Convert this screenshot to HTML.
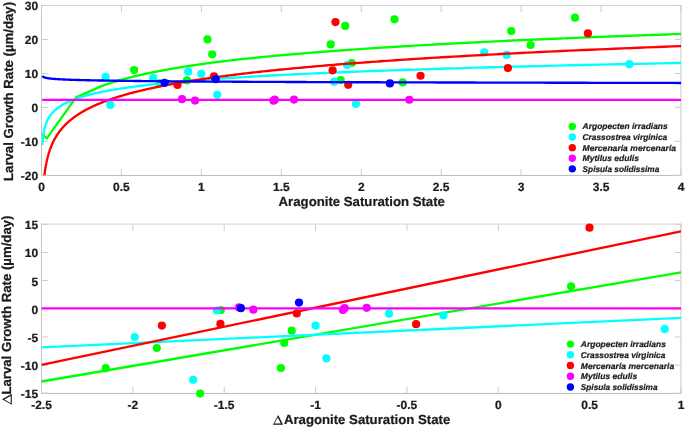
<!DOCTYPE html>
<html><head><meta charset="utf-8"><style>html,body{margin:0;padding:0;background:#fff;width:685px;height:428px;overflow:hidden}svg{display:block}</style></head>
<body><svg width="685" height="428" viewBox="0 0 685 428" style="will-change:transform;text-rendering:geometricPrecision">
<defs>
<filter id="soft" x="0" y="0" width="100%" height="100%"><feGaussianBlur stdDeviation="0.3"/></filter>
<clipPath id="ct"><rect x="41.5" y="5.5" width="639.5" height="169.8"/></clipPath>
<clipPath id="cb"><rect x="41.5" y="224.3" width="639.5" height="168.89999999999998"/></clipPath>
</defs>
<rect width="685" height="428" fill="#fff"/>
<g filter="url(#soft)">
<g font-family="Liberation Sans, sans-serif" font-weight="bold" fill="#1a1a1a">
<style>text{stroke:#1a1a1a;stroke-width:0.22px;paint-order:stroke}</style>
<line x1="41.00" y1="5.45" x2="681.40" y2="5.45" stroke="#d0d0d0" stroke-width="1"/>
<line x1="41.00" y1="175.45" x2="681.40" y2="175.45" stroke="#bcbcbc" stroke-width="1"/>
<line x1="41.50" y1="5.00" x2="41.50" y2="175.90" stroke="#c4c4c4" stroke-width="1"/>
<line x1="680.95" y1="5.00" x2="680.95" y2="175.90" stroke="#c8c8c8" stroke-width="1"/>
<line x1="41.50" y1="175.30" x2="41.50" y2="168.90" stroke="#cccccc" stroke-width="1"/>
<line x1="41.50" y1="5.50" x2="41.50" y2="11.90" stroke="#cccccc" stroke-width="1"/>
<text x="41.50" y="190.50" font-size="12" text-anchor="middle" >0</text>
<line x1="121.44" y1="175.30" x2="121.44" y2="168.90" stroke="#cccccc" stroke-width="1"/>
<line x1="121.44" y1="5.50" x2="121.44" y2="11.90" stroke="#cccccc" stroke-width="1"/>
<text x="121.44" y="190.50" font-size="12" text-anchor="middle" >0.5</text>
<line x1="201.38" y1="175.30" x2="201.38" y2="168.90" stroke="#cccccc" stroke-width="1"/>
<line x1="201.38" y1="5.50" x2="201.38" y2="11.90" stroke="#cccccc" stroke-width="1"/>
<text x="201.38" y="190.50" font-size="12" text-anchor="middle" >1</text>
<line x1="281.31" y1="175.30" x2="281.31" y2="168.90" stroke="#cccccc" stroke-width="1"/>
<line x1="281.31" y1="5.50" x2="281.31" y2="11.90" stroke="#cccccc" stroke-width="1"/>
<text x="281.31" y="190.50" font-size="12" text-anchor="middle" >1.5</text>
<line x1="361.25" y1="175.30" x2="361.25" y2="168.90" stroke="#cccccc" stroke-width="1"/>
<line x1="361.25" y1="5.50" x2="361.25" y2="11.90" stroke="#cccccc" stroke-width="1"/>
<text x="361.25" y="190.50" font-size="12" text-anchor="middle" >2</text>
<line x1="441.19" y1="175.30" x2="441.19" y2="168.90" stroke="#cccccc" stroke-width="1"/>
<line x1="441.19" y1="5.50" x2="441.19" y2="11.90" stroke="#cccccc" stroke-width="1"/>
<text x="441.19" y="190.50" font-size="12" text-anchor="middle" >2.5</text>
<line x1="521.12" y1="175.30" x2="521.12" y2="168.90" stroke="#cccccc" stroke-width="1"/>
<line x1="521.12" y1="5.50" x2="521.12" y2="11.90" stroke="#cccccc" stroke-width="1"/>
<text x="521.12" y="190.50" font-size="12" text-anchor="middle" >3</text>
<line x1="601.06" y1="175.30" x2="601.06" y2="168.90" stroke="#cccccc" stroke-width="1"/>
<line x1="601.06" y1="5.50" x2="601.06" y2="11.90" stroke="#cccccc" stroke-width="1"/>
<text x="601.06" y="190.50" font-size="12" text-anchor="middle" >3.5</text>
<line x1="681.00" y1="175.30" x2="681.00" y2="168.90" stroke="#cccccc" stroke-width="1"/>
<line x1="681.00" y1="5.50" x2="681.00" y2="11.90" stroke="#cccccc" stroke-width="1"/>
<text x="681.00" y="190.50" font-size="12" text-anchor="middle" >4</text>
<line x1="41.50" y1="175.30" x2="47.90" y2="175.30" stroke="#cccccc" stroke-width="1"/>
<line x1="681.00" y1="175.30" x2="674.60" y2="175.30" stroke="#cccccc" stroke-width="1"/>
<text x="38.10" y="180.20" font-size="12" text-anchor="end" >-20</text>
<line x1="41.50" y1="141.34" x2="47.90" y2="141.34" stroke="#cccccc" stroke-width="1"/>
<line x1="681.00" y1="141.34" x2="674.60" y2="141.34" stroke="#cccccc" stroke-width="1"/>
<text x="38.10" y="146.24" font-size="12" text-anchor="end" >-10</text>
<line x1="41.50" y1="107.38" x2="47.90" y2="107.38" stroke="#cccccc" stroke-width="1"/>
<line x1="681.00" y1="107.38" x2="674.60" y2="107.38" stroke="#cccccc" stroke-width="1"/>
<text x="38.10" y="112.28" font-size="12" text-anchor="end" >0</text>
<line x1="41.50" y1="73.42" x2="47.90" y2="73.42" stroke="#cccccc" stroke-width="1"/>
<line x1="681.00" y1="73.42" x2="674.60" y2="73.42" stroke="#cccccc" stroke-width="1"/>
<text x="38.10" y="78.32" font-size="12" text-anchor="end" >10</text>
<line x1="41.50" y1="39.46" x2="47.90" y2="39.46" stroke="#cccccc" stroke-width="1"/>
<line x1="681.00" y1="39.46" x2="674.60" y2="39.46" stroke="#cccccc" stroke-width="1"/>
<text x="38.10" y="44.36" font-size="12" text-anchor="end" >20</text>
<line x1="41.50" y1="5.50" x2="47.90" y2="5.50" stroke="#cccccc" stroke-width="1"/>
<line x1="681.00" y1="5.50" x2="674.60" y2="5.50" stroke="#cccccc" stroke-width="1"/>
<text x="38.10" y="10.40" font-size="12" text-anchor="end" >30</text>
<text x="278.60" y="206.20" font-size="13.2" text-anchor="start" >Aragonite Saturation State</text>
<text transform="translate(13.2,181.0) rotate(-90)" font-size="13.2" text-anchor="start">Larval Growth Rate (µm/day)</text>
<line x1="41.00" y1="224.10" x2="681.40" y2="224.10" stroke="#d0d0d0" stroke-width="1"/>
<line x1="41.00" y1="393.45" x2="681.40" y2="393.45" stroke="#bcbcbc" stroke-width="1"/>
<line x1="41.50" y1="223.60" x2="41.50" y2="393.90" stroke="#c4c4c4" stroke-width="1"/>
<line x1="680.95" y1="223.60" x2="680.95" y2="393.90" stroke="#c8c8c8" stroke-width="1"/>
<line x1="41.50" y1="393.20" x2="41.50" y2="386.80" stroke="#cccccc" stroke-width="1"/>
<line x1="41.50" y1="224.30" x2="41.50" y2="230.70" stroke="#cccccc" stroke-width="1"/>
<text x="41.50" y="408.50" font-size="12" text-anchor="middle" >-2.5</text>
<line x1="132.86" y1="393.20" x2="132.86" y2="386.80" stroke="#cccccc" stroke-width="1"/>
<line x1="132.86" y1="224.30" x2="132.86" y2="230.70" stroke="#cccccc" stroke-width="1"/>
<text x="132.86" y="408.50" font-size="12" text-anchor="middle" >-2</text>
<line x1="224.21" y1="393.20" x2="224.21" y2="386.80" stroke="#cccccc" stroke-width="1"/>
<line x1="224.21" y1="224.30" x2="224.21" y2="230.70" stroke="#cccccc" stroke-width="1"/>
<text x="224.21" y="408.50" font-size="12" text-anchor="middle" >-1.5</text>
<line x1="315.57" y1="393.20" x2="315.57" y2="386.80" stroke="#cccccc" stroke-width="1"/>
<line x1="315.57" y1="224.30" x2="315.57" y2="230.70" stroke="#cccccc" stroke-width="1"/>
<text x="315.57" y="408.50" font-size="12" text-anchor="middle" >-1</text>
<line x1="406.93" y1="393.20" x2="406.93" y2="386.80" stroke="#cccccc" stroke-width="1"/>
<line x1="406.93" y1="224.30" x2="406.93" y2="230.70" stroke="#cccccc" stroke-width="1"/>
<text x="406.93" y="408.50" font-size="12" text-anchor="middle" >-0.5</text>
<line x1="498.29" y1="393.20" x2="498.29" y2="386.80" stroke="#cccccc" stroke-width="1"/>
<line x1="498.29" y1="224.30" x2="498.29" y2="230.70" stroke="#cccccc" stroke-width="1"/>
<text x="498.29" y="408.50" font-size="12" text-anchor="middle" >0</text>
<line x1="589.64" y1="393.20" x2="589.64" y2="386.80" stroke="#cccccc" stroke-width="1"/>
<line x1="589.64" y1="224.30" x2="589.64" y2="230.70" stroke="#cccccc" stroke-width="1"/>
<text x="589.64" y="408.50" font-size="12" text-anchor="middle" >0.5</text>
<line x1="681.00" y1="393.20" x2="681.00" y2="386.80" stroke="#cccccc" stroke-width="1"/>
<line x1="681.00" y1="224.30" x2="681.00" y2="230.70" stroke="#cccccc" stroke-width="1"/>
<text x="681.00" y="408.50" font-size="12" text-anchor="middle" >1</text>
<line x1="41.50" y1="393.20" x2="47.90" y2="393.20" stroke="#cccccc" stroke-width="1"/>
<line x1="681.00" y1="393.20" x2="674.60" y2="393.20" stroke="#cccccc" stroke-width="1"/>
<text x="38.10" y="398.10" font-size="12" text-anchor="end" >-15</text>
<line x1="41.50" y1="365.05" x2="47.90" y2="365.05" stroke="#cccccc" stroke-width="1"/>
<line x1="681.00" y1="365.05" x2="674.60" y2="365.05" stroke="#cccccc" stroke-width="1"/>
<text x="38.10" y="369.95" font-size="12" text-anchor="end" >-10</text>
<line x1="41.50" y1="336.90" x2="47.90" y2="336.90" stroke="#cccccc" stroke-width="1"/>
<line x1="681.00" y1="336.90" x2="674.60" y2="336.90" stroke="#cccccc" stroke-width="1"/>
<text x="38.10" y="341.80" font-size="12" text-anchor="end" >-5</text>
<line x1="41.50" y1="308.75" x2="47.90" y2="308.75" stroke="#cccccc" stroke-width="1"/>
<line x1="681.00" y1="308.75" x2="674.60" y2="308.75" stroke="#cccccc" stroke-width="1"/>
<text x="38.10" y="313.65" font-size="12" text-anchor="end" >0</text>
<line x1="41.50" y1="280.60" x2="47.90" y2="280.60" stroke="#cccccc" stroke-width="1"/>
<line x1="681.00" y1="280.60" x2="674.60" y2="280.60" stroke="#cccccc" stroke-width="1"/>
<text x="38.10" y="285.50" font-size="12" text-anchor="end" >5</text>
<line x1="41.50" y1="252.45" x2="47.90" y2="252.45" stroke="#cccccc" stroke-width="1"/>
<line x1="681.00" y1="252.45" x2="674.60" y2="252.45" stroke="#cccccc" stroke-width="1"/>
<text x="38.10" y="257.35" font-size="12" text-anchor="end" >10</text>
<line x1="41.50" y1="224.30" x2="47.90" y2="224.30" stroke="#cccccc" stroke-width="1"/>
<line x1="681.00" y1="224.30" x2="674.60" y2="224.30" stroke="#cccccc" stroke-width="1"/>
<text x="38.10" y="229.20" font-size="12" text-anchor="end" >15</text>
<text x="283.90" y="424.30" font-size="13.2" text-anchor="start" >Aragonite Saturation State</text>
<path fill-rule="evenodd" d="M278.20,414.90L283.10,424.70L273.00,424.70Z M277.78,417.41L274.49,423.60L280.87,423.60Z"/>
<text transform="translate(11.2,394.6) rotate(-90)" font-size="13.2" text-anchor="start">Larval Growth Rate (µm/day)</text>
<path fill-rule="evenodd" d="M2.00,399.20L11.80,393.70L11.80,404.70Z M4.35,399.60L10.70,403.17L10.70,396.04Z"/>
<circle cx="134.10" cy="70.00" r="4.1" fill="#00ff00"/>
<circle cx="159.60" cy="83.30" r="4.1" fill="#00ff00"/>
<circle cx="187.00" cy="80.40" r="4.1" fill="#00ff00"/>
<circle cx="207.50" cy="39.40" r="4.1" fill="#00ff00"/>
<circle cx="212.20" cy="54.30" r="4.1" fill="#00ff00"/>
<circle cx="345.20" cy="25.90" r="4.1" fill="#00ff00"/>
<circle cx="330.70" cy="44.40" r="4.1" fill="#00ff00"/>
<circle cx="351.70" cy="63.00" r="4.1" fill="#00ff00"/>
<circle cx="340.70" cy="80.10" r="4.1" fill="#00ff00"/>
<circle cx="394.50" cy="19.30" r="4.1" fill="#00ff00"/>
<circle cx="402.70" cy="82.40" r="4.1" fill="#00ff00"/>
<circle cx="511.25" cy="31.00" r="4.1" fill="#00ff00"/>
<circle cx="530.60" cy="45.00" r="4.1" fill="#00ff00"/>
<circle cx="575.00" cy="17.70" r="4.1" fill="#00ff00"/>
<polyline points="41.00,133.40 46.80,138.40 76.00,97.40 101.00,86.31 101.36,86.18 101.71,86.05 102.07,85.92 102.43,85.79 102.80,85.65 103.16,85.52 103.53,85.39 103.90,85.26 104.27,85.13 104.65,84.99 105.03,84.86 105.40,84.73 105.79,84.60 106.17,84.47 106.56,84.33 106.94,84.20 107.34,84.07 107.73,83.94 108.12,83.81 108.52,83.67 108.92,83.54 109.32,83.41 109.73,83.28 110.14,83.14 110.55,83.01 110.96,82.88 111.37,82.75 111.79,82.62 112.21,82.48 112.63,82.35 113.06,82.22 113.48,82.09 113.91,81.95 114.34,81.82 114.78,81.69 115.22,81.56 115.66,81.42 116.10,81.29 116.55,81.16 116.99,81.03 117.44,80.89 117.90,80.76 118.35,80.63 118.81,80.50 119.27,80.36 119.74,80.23 120.20,80.10 120.67,79.97 121.15,79.83 121.62,79.70 122.10,79.57 122.58,79.43 123.07,79.30 123.55,79.17 124.04,79.04 124.54,78.90 125.03,78.77 125.53,78.64 126.03,78.50 126.54,78.37 127.04,78.24 127.55,78.11 128.07,77.97 128.58,77.84 129.10,77.71 129.63,77.57 130.15,77.44 130.68,77.31 131.22,77.17 131.75,77.04 132.29,76.91 132.83,76.78 133.38,76.64 133.93,76.51 134.48,76.38 135.03,76.24 135.59,76.11 136.15,75.98 136.72,75.84 137.29,75.71 137.86,75.58 138.43,75.44 139.01,75.31 139.59,75.17 140.18,75.04 140.77,74.91 141.36,74.77 141.96,74.64 142.56,74.51 143.16,74.37 143.77,74.24 144.38,74.11 144.99,73.97 145.61,73.84 146.23,73.70 146.85,73.57 147.48,73.44 148.12,73.30 148.75,73.17 149.39,73.04 150.04,72.90 150.69,72.77 151.34,72.63 151.99,72.50 152.65,72.37 153.32,72.23 153.98,72.10 154.65,71.96 155.33,71.83 156.01,71.69 156.69,71.56 157.38,71.43 158.07,71.29 158.77,71.16 159.47,71.02 160.17,70.89 160.88,70.75 161.59,70.62 162.31,70.49 163.03,70.35 163.76,70.22 164.49,70.08 165.22,69.95 165.96,69.81 166.70,69.68 167.45,69.54 168.20,69.41 168.96,69.27 169.72,69.14 170.48,69.00 171.25,68.87 172.03,68.73 172.81,68.60 173.59,68.46 174.38,68.33 175.17,68.19 175.97,68.06 176.77,67.92 177.58,67.79 178.39,67.65 179.21,67.52 180.03,67.38 180.86,67.25 181.69,67.11 182.53,66.98 183.37,66.84 184.22,66.71 185.07,66.57 185.93,66.44 186.79,66.30 187.66,66.17 188.53,66.03 189.41,65.89 190.29,65.76 191.18,65.62 192.07,65.49 192.97,65.35 193.87,65.22 194.78,65.08 195.70,64.94 196.62,64.81 197.54,64.67 198.48,64.54 199.41,64.40 200.36,64.26 201.30,64.13 202.26,63.99 203.22,63.85 204.18,63.72 205.15,63.58 206.13,63.45 207.11,63.31 208.10,63.17 209.10,63.04 210.10,62.90 211.10,62.76 212.12,62.63 213.14,62.51 214.16,62.38 215.19,62.25 216.23,62.12 217.27,61.99 218.32,61.86 219.37,61.73 220.44,61.60 221.50,61.47 222.58,61.34 223.66,61.21 224.75,61.08 225.84,60.95 226.94,60.83 228.05,60.70 229.16,60.57 230.28,60.44 231.41,60.31 232.54,60.18 233.68,60.05 234.83,59.92 235.99,59.79 237.15,59.66 238.31,59.53 239.49,59.40 240.67,59.27 241.86,59.14 243.06,59.02 244.26,58.89 245.47,58.76 246.69,58.63 247.91,58.50 249.14,58.37 250.38,58.24 251.63,58.11 252.88,57.98 254.15,57.85 255.42,57.72 256.69,57.59 257.98,57.46 259.27,57.34 260.57,57.21 261.88,57.08 263.19,56.95 264.52,56.82 265.85,56.69 267.19,56.56 268.53,56.43 269.89,56.30 271.25,56.17 272.62,56.04 274.00,55.91 275.39,55.78 276.79,55.66 278.19,55.53 279.61,55.40 281.03,55.27 282.46,55.14 283.89,55.01 285.34,54.88 286.80,54.75 288.26,54.62 289.73,54.49 291.22,54.36 292.71,54.23 294.21,54.10 295.71,53.97 297.23,53.85 298.76,53.72 300.29,53.59 301.84,53.46 303.39,53.33 304.96,53.20 306.53,53.07 308.11,52.94 309.70,52.81 311.30,52.68 312.91,52.55 314.53,52.42 316.16,52.29 317.80,52.17 319.45,52.04 321.11,51.91 322.78,51.78 324.46,51.65 326.15,51.52 327.85,51.39 329.56,51.26 331.28,51.13 333.01,51.00 334.75,50.87 336.50,50.74 338.26,50.61 340.03,50.48 341.81,50.36 343.61,50.23 345.41,50.10 347.22,49.97 349.05,49.84 350.88,49.71 352.73,49.58 354.59,49.45 356.46,49.32 358.34,49.19 360.23,49.06 362.13,48.93 364.05,48.80 365.97,48.68 367.91,48.55 369.86,48.42 371.82,48.29 373.79,48.16 375.77,48.03 377.77,47.90 379.78,47.77 381.79,47.64 383.83,47.51 385.87,47.38 387.92,47.25 389.99,47.12 392.07,47.00 394.17,46.87 396.27,46.74 398.39,46.61 400.52,46.48 402.66,46.35 404.82,46.22 406.99,46.09 409.17,45.96 411.36,45.83 413.57,45.70 415.79,45.57 418.03,45.44 420.27,45.31 422.54,45.19 424.81,45.06 427.10,44.93 429.40,44.80 431.72,44.67 434.04,44.54 436.39,44.41 438.75,44.28 441.12,44.15 443.50,44.02 445.90,43.89 448.32,43.76 450.74,43.63 453.19,43.51 455.64,43.38 458.12,43.25 460.60,43.12 463.11,42.99 465.62,42.86 468.15,42.73 470.70,42.60 473.26,42.47 475.84,42.34 478.43,42.21 481.04,42.08 483.67,41.95 486.30,41.82 488.96,41.70 491.63,41.57 494.32,41.44 497.02,41.31 499.74,41.18 502.48,41.05 505.23,40.92 508.00,40.79 510.78,40.66 513.58,40.53 516.40,40.40 519.23,40.27 522.09,40.14 524.96,40.02 527.84,39.89 530.74,39.76 533.66,39.63 536.60,39.50 539.56,39.37 542.53,39.24 545.52,39.11 548.53,38.98 551.56,38.85 554.60,38.72 557.67,38.59 560.75,38.46 563.85,38.33 566.96,38.21 570.10,38.08 573.26,37.95 576.43,37.82 579.62,37.69 582.84,37.56 586.07,37.43 589.32,37.30 592.59,37.17 595.88,37.04 599.19,36.91 602.52,36.78 605.87,36.65 609.23,36.53 612.62,36.40 616.03,36.27 619.46,36.14 622.91,36.01 626.38,35.88 629.87,35.75 633.39,35.62 636.92,35.49 640.47,35.36 644.05,35.23 647.65,35.10 651.26,34.97 654.90,34.85 658.57,34.72 662.25,34.59 665.96,34.46 669.68,34.33 673.43,34.20 677.21,34.07 681.00,33.94" fill="none" stroke="#00ff00" stroke-width="2.35" stroke-linejoin="round" clip-path="url(#ct)"/>
<circle cx="105.60" cy="76.95" r="4.1" fill="#00ffff"/>
<circle cx="110.30" cy="104.90" r="4.1" fill="#00ffff"/>
<circle cx="153.20" cy="78.20" r="4.1" fill="#00ffff"/>
<circle cx="188.20" cy="71.70" r="4.1" fill="#00ffff"/>
<circle cx="201.30" cy="73.80" r="4.1" fill="#00ffff"/>
<circle cx="217.30" cy="94.80" r="4.1" fill="#00ffff"/>
<circle cx="347.10" cy="65.10" r="4.1" fill="#00ffff"/>
<circle cx="334.20" cy="81.70" r="4.1" fill="#00ffff"/>
<circle cx="355.90" cy="103.90" r="4.1" fill="#00ffff"/>
<circle cx="484.20" cy="52.30" r="4.1" fill="#00ffff"/>
<circle cx="506.70" cy="54.90" r="4.1" fill="#00ffff"/>
<circle cx="629.40" cy="64.20" r="4.1" fill="#00ffff"/>
<polyline points="42.30,144.88 42.31,144.68 42.33,144.47 42.34,144.27 42.35,144.06 42.37,143.86 42.38,143.65 42.40,143.45 42.41,143.24 42.43,143.04 42.45,142.83 42.46,142.63 42.48,142.42 42.49,142.21 42.51,142.01 42.53,141.80 42.55,141.60 42.56,141.39 42.58,141.19 42.60,140.98 42.62,140.78 42.64,140.57 42.66,140.37 42.68,140.16 42.70,139.96 42.72,139.75 42.74,139.55 42.76,139.34 42.78,139.14 42.80,138.93 42.82,138.72 42.84,138.52 42.87,138.31 42.89,138.11 42.91,137.90 42.94,137.70 42.96,137.49 42.99,137.29 43.01,137.08 43.04,136.88 43.06,136.67 43.09,136.47 43.12,136.26 43.14,136.06 43.17,135.85 43.20,135.65 43.23,135.44 43.26,135.24 43.29,135.03 43.32,134.82 43.35,134.62 43.38,134.41 43.41,134.21 43.44,134.00 43.48,133.80 43.51,133.59 43.54,133.39 43.58,133.18 43.61,132.98 43.65,132.77 43.68,132.57 43.72,132.36 43.76,132.16 43.80,131.95 43.84,131.75 43.88,131.54 43.92,131.33 43.96,131.13 44.00,130.92 44.04,130.72 44.08,130.51 44.13,130.31 44.17,130.10 44.22,129.90 44.26,129.69 44.31,129.49 44.36,129.28 44.40,129.08 44.45,128.87 44.50,128.67 44.55,128.46 44.61,128.26 44.66,128.05 44.71,127.85 44.77,127.64 44.82,127.43 44.88,127.23 44.93,127.02 44.99,126.82 45.05,126.61 45.11,126.41 45.17,126.20 45.23,126.00 45.30,125.79 45.36,125.59 45.43,125.38 45.49,125.18 45.56,124.97 45.63,124.77 45.70,124.56 45.77,124.36 45.84,124.15 45.91,123.95 45.99,123.74 46.07,123.53 46.14,123.33 46.22,123.12 46.30,122.92 46.38,122.71 46.46,122.51 46.55,122.30 46.63,122.10 46.72,121.89 46.81,121.69 46.90,121.48 46.99,121.28 47.08,121.07 47.18,120.87 47.27,120.66 47.37,120.46 47.47,120.25 47.57,120.04 47.67,119.84 47.78,119.63 47.88,119.43 47.99,119.22 48.10,119.02 48.21,118.81 48.32,118.61 48.44,118.40 48.56,118.20 48.68,117.99 48.80,117.79 48.92,117.58 49.05,117.38 49.17,117.17 49.30,116.97 49.44,116.76 49.57,116.56 49.71,116.35 49.84,116.14 49.99,115.94 50.13,115.73 50.27,115.53 50.42,115.32 50.57,115.12 50.73,114.91 50.88,114.71 51.04,114.50 51.20,114.30 51.37,114.09 51.53,113.89 51.70,113.68 51.87,113.48 52.05,113.27 52.23,113.07 52.41,112.86 52.59,112.65 52.78,112.45 52.97,112.24 53.17,112.04 53.36,111.83 53.56,111.63 53.77,111.42 53.97,111.22 54.18,111.01 54.40,110.81 54.62,110.60 54.84,110.40 55.06,110.19 55.29,109.99 55.53,109.78 55.76,109.58 56.00,109.37 56.25,109.17 56.50,108.96 56.75,108.75 57.01,108.55 57.27,108.34 57.54,108.14 57.81,107.93 58.08,107.73 58.36,107.52 58.65,107.32 58.94,107.11 59.23,106.91 59.53,106.70 59.84,106.50 60.15,106.29 60.46,106.09 60.78,105.88 61.11,105.68 61.44,105.47 61.78,105.26 62.12,105.06 62.47,104.85 62.82,104.65 63.18,104.44 63.55,104.24 63.92,104.03 64.30,103.83 64.69,103.62 65.08,103.42 65.48,103.21 65.88,103.01 66.29,102.80 66.71,102.60 67.14,102.39 67.57,102.19 68.01,101.98 68.46,101.78 68.91,101.57 69.38,101.36 69.85,101.16 70.33,100.95 70.81,100.75 71.31,100.54 71.81,100.34 72.32,100.13 72.85,99.93 73.38,99.72 73.91,99.52 74.46,99.31 75.02,99.11 75.58,98.90 76.16,98.70 76.75,98.49 77.34,98.29 77.95,98.08 78.56,97.88 79.19,97.67 79.83,97.46 80.47,97.26 81.13,97.05 81.80,96.85 82.48,96.64 83.17,96.44 83.88,96.23 84.59,96.03 85.32,95.82 86.06,95.62 86.82,95.41 87.58,95.21 88.36,95.00 89.15,94.80 89.96,94.59 90.77,94.39 91.61,94.18 92.45,93.97 93.31,93.77 94.19,93.56 95.08,93.36 95.99,93.15 96.91,92.95 97.84,92.74 98.79,92.54 99.76,92.33 100.75,92.13 101.75,91.92 102.77,91.72 103.80,91.51 104.85,91.31 105.92,91.10 107.01,90.90 108.12,90.69 109.24,90.49 110.39,90.28 111.55,90.07 112.74,89.87 113.94,89.66 115.16,89.46 116.41,89.25 117.67,89.05 118.96,88.84 120.27,88.64 121.60,88.43 122.95,88.23 124.33,88.02 125.73,87.82 127.15,87.61 128.60,87.41 130.07,87.20 131.57,87.00 133.09,86.79 134.63,86.58 136.21,86.38 137.81,86.17 139.44,85.97 141.09,85.76 142.77,85.56 144.48,85.35 146.22,85.15 147.99,84.94 149.79,84.74 151.62,84.53 153.48,84.33 155.37,84.12 157.30,83.92 159.25,83.71 161.24,83.51 163.27,83.30 165.32,83.10 167.41,82.89 169.54,82.68 171.71,82.48 173.91,82.27 176.14,82.07 178.42,81.86 180.73,81.66 183.08,81.45 185.47,81.25 187.91,81.04 190.38,80.84 192.90,80.63 195.45,80.43 198.05,80.22 200.70,80.02 203.39,79.81 206.12,79.61 208.90,79.40 211.73,79.19 214.61,78.99 217.53,78.78 220.51,78.58 223.53,78.37 226.61,78.17 229.73,77.96 232.91,77.76 236.15,77.55 239.44,77.35 242.78,77.14 246.18,76.94 249.64,76.73 253.16,76.53 256.73,76.32 260.37,76.12 264.07,75.91 267.83,75.71 271.65,75.50 275.54,75.29 279.49,75.09 283.51,74.88 287.60,74.68 291.76,74.47 295.99,74.27 300.29,74.06 304.66,73.86 309.10,73.65 313.63,73.45 318.22,73.24 322.90,73.04 327.65,72.83 332.49,72.63 337.40,72.42 342.40,72.22 347.49,72.01 352.65,71.81 357.91,71.60 363.26,71.39 368.69,71.19 374.22,70.98 379.84,70.78 385.56,70.57 391.37,70.37 397.28,70.16 403.29,69.96 409.40,69.75 415.62,69.55 421.94,69.34 428.37,69.14 434.90,68.93 441.55,68.73 448.31,68.52 455.18,68.32 462.17,68.11 469.28,67.90 476.51,67.70 483.85,67.49 491.33,67.29 498.93,67.08 506.66,66.88 514.51,66.67 522.51,66.47 530.63,66.26 538.90,66.06 547.30,65.85 555.84,65.65 564.53,65.44 573.37,65.24 582.36,65.03 591.49,64.83 600.79,64.62 610.23,64.42 619.84,64.21 629.61,64.00 639.55,63.80 649.65,63.59 659.93,63.39 670.38,63.18 681.00,62.98" fill="none" stroke="#00ffff" stroke-width="2.35" stroke-linejoin="round" clip-path="url(#ct)"/>
<circle cx="177.50" cy="84.90" r="4.1" fill="#ff0000"/>
<circle cx="214.00" cy="76.30" r="4.1" fill="#ff0000"/>
<circle cx="335.50" cy="22.10" r="4.1" fill="#ff0000"/>
<circle cx="332.60" cy="70.30" r="4.1" fill="#ff0000"/>
<circle cx="348.20" cy="84.80" r="4.1" fill="#ff0000"/>
<circle cx="420.55" cy="75.75" r="4.1" fill="#ff0000"/>
<circle cx="507.90" cy="68.05" r="4.1" fill="#ff0000"/>
<circle cx="587.90" cy="33.40" r="4.1" fill="#ff0000"/>
<polyline points="44.14,177.44 44.17,177.11 44.21,176.78 44.25,176.45 44.29,176.12 44.33,175.79 44.36,175.46 44.40,175.13 44.44,174.80 44.49,174.47 44.53,174.15 44.57,173.82 44.61,173.49 44.65,173.16 44.70,172.83 44.74,172.50 44.79,172.17 44.83,171.84 44.88,171.51 44.93,171.18 44.97,170.85 45.02,170.52 45.07,170.20 45.12,169.87 45.17,169.54 45.22,169.21 45.27,168.88 45.32,168.55 45.38,168.22 45.43,167.89 45.49,167.56 45.54,167.23 45.60,166.90 45.65,166.57 45.71,166.24 45.77,165.92 45.83,165.59 45.89,165.26 45.95,164.93 46.01,164.60 46.07,164.27 46.14,163.94 46.20,163.61 46.27,163.28 46.33,162.95 46.40,162.62 46.47,162.29 46.54,161.97 46.61,161.64 46.68,161.31 46.75,160.98 46.82,160.65 46.90,160.32 46.97,159.99 47.05,159.66 47.12,159.33 47.20,159.00 47.28,158.67 47.36,158.34 47.44,158.02 47.52,157.69 47.61,157.36 47.69,157.03 47.78,156.70 47.86,156.37 47.95,156.04 48.04,155.71 48.13,155.38 48.22,155.05 48.32,154.72 48.41,154.39 48.51,154.07 48.60,153.74 48.70,153.41 48.80,153.08 48.90,152.75 49.01,152.42 49.11,152.09 49.22,151.76 49.32,151.43 49.43,151.10 49.54,150.77 49.65,150.44 49.77,150.11 49.88,149.79 50.00,149.46 50.11,149.13 50.23,148.80 50.35,148.47 50.48,148.14 50.60,147.81 50.73,147.48 50.86,147.15 50.99,146.82 51.12,146.49 51.25,146.16 51.39,145.84 51.52,145.51 51.66,145.18 51.80,144.85 51.94,144.52 52.09,144.19 52.24,143.86 52.39,143.53 52.54,143.20 52.69,142.87 52.84,142.54 53.00,142.21 53.16,141.89 53.32,141.56 53.49,141.23 53.65,140.90 53.82,140.57 53.99,140.24 54.16,139.91 54.34,139.58 54.52,139.25 54.70,138.92 54.88,138.59 55.07,138.26 55.25,137.94 55.44,137.61 55.64,137.28 55.83,136.95 56.03,136.62 56.23,136.29 56.44,135.96 56.64,135.63 56.85,135.30 57.07,134.97 57.28,134.64 57.50,134.31 57.72,133.98 57.95,133.66 58.18,133.33 58.41,133.00 58.64,132.67 58.88,132.34 59.12,132.01 59.36,131.68 59.61,131.35 59.86,131.02 60.12,130.69 60.38,130.36 60.64,130.03 60.90,129.71 61.17,129.38 61.44,129.05 61.72,128.72 62.00,128.39 62.28,128.06 62.57,127.73 62.86,127.40 63.16,127.07 63.46,126.74 63.76,126.41 64.07,126.08 64.39,125.76 64.70,125.43 65.02,125.10 65.35,124.77 65.68,124.44 66.02,124.11 66.36,123.78 66.70,123.45 67.05,123.12 67.40,122.79 67.76,122.46 68.13,122.13 68.49,121.80 68.87,121.48 69.25,121.15 69.63,120.82 70.02,120.49 70.42,120.16 70.82,119.83 71.22,119.50 71.64,119.17 72.05,118.84 72.48,118.51 72.91,118.18 73.34,117.85 73.78,117.53 74.23,117.20 74.68,116.87 75.14,116.54 75.61,116.21 76.08,115.88 76.56,115.55 77.05,115.22 77.54,114.89 78.04,114.56 78.55,114.23 79.06,113.90 79.58,113.58 80.11,113.25 80.64,112.92 81.18,112.59 81.73,112.26 82.29,111.93 82.86,111.60 83.43,111.27 84.01,110.94 84.60,110.61 85.20,110.28 85.80,109.95 86.42,109.63 87.04,109.30 87.67,108.97 88.31,108.64 88.96,108.31 89.62,107.98 90.28,107.65 90.96,107.32 91.64,106.99 92.34,106.66 93.04,106.33 93.76,106.00 94.48,105.67 95.21,105.35 95.96,105.02 96.71,104.69 97.48,104.36 98.25,104.03 99.04,103.70 99.84,103.37 100.65,103.04 101.47,102.71 102.30,102.38 103.14,102.05 103.99,101.72 104.86,101.40 105.74,101.07 106.63,100.74 107.53,100.41 108.44,100.08 109.37,99.75 110.31,99.42 111.27,99.09 112.23,98.76 113.21,98.43 114.21,98.10 115.21,97.77 116.24,97.45 117.27,97.12 118.32,96.79 119.39,96.46 120.46,96.13 121.56,95.80 122.67,95.47 123.79,95.14 124.93,94.81 126.09,94.48 127.26,94.15 128.45,93.82 129.65,93.49 130.88,93.17 132.11,92.84 133.37,92.51 134.64,92.18 135.93,91.85 137.24,91.52 138.57,91.19 139.91,90.86 141.28,90.53 142.66,90.20 144.06,89.87 145.48,89.54 146.92,89.22 148.38,88.89 149.86,88.56 151.37,88.23 152.89,87.90 154.43,87.57 156.00,87.24 157.58,86.91 159.19,86.58 160.82,86.25 162.48,85.92 164.15,85.59 165.85,85.27 167.57,84.94 169.32,84.61 171.09,84.28 172.89,83.95 174.71,83.62 176.55,83.29 178.43,82.96 180.32,82.63 182.25,82.30 184.20,81.97 186.17,81.64 188.18,81.32 190.21,80.99 192.27,80.66 194.36,80.33 196.48,80.00 198.63,79.67 200.80,79.34 203.01,79.01 205.25,78.68 207.52,78.35 209.82,78.02 212.15,77.69 214.52,77.36 216.91,77.04 219.34,76.71 221.81,76.38 224.31,76.05 226.84,75.72 229.41,75.39 232.01,75.06 234.65,74.73 237.33,74.40 240.04,74.07 242.79,73.74 245.58,73.41 248.41,73.09 251.27,72.76 254.18,72.43 257.13,72.10 260.12,71.77 263.15,71.44 266.22,71.11 269.33,70.78 272.49,70.45 275.69,70.12 278.93,69.79 282.22,69.46 285.56,69.14 288.94,68.81 292.37,68.48 295.84,68.15 299.37,67.82 302.94,67.49 306.56,67.16 310.24,66.83 313.96,66.50 317.74,66.17 321.56,65.84 325.44,65.51 329.38,65.18 333.37,64.86 337.41,64.53 341.51,64.20 345.67,63.87 349.88,63.54 354.16,63.21 358.49,62.88 362.88,62.55 367.34,62.22 371.85,61.89 376.43,61.56 381.07,61.23 385.77,60.91 390.54,60.58 395.38,60.25 400.28,59.92 405.25,59.59 410.30,59.26 415.41,58.93 420.59,58.60 425.84,58.27 431.16,57.94 436.56,57.61 442.04,57.28 447.59,56.96 453.21,56.63 458.92,56.30 464.70,55.97 470.57,55.64 476.51,55.31 482.54,54.98 488.65,54.65 494.85,54.32 501.13,53.99 507.50,53.66 513.95,53.33 520.50,53.01 527.14,52.68 533.87,52.35 540.69,52.02 547.61,51.69 554.62,51.36 561.73,51.03 568.94,50.70 576.25,50.37 583.66,50.04 591.17,49.71 598.78,49.38 606.51,49.05 614.33,48.73 622.27,48.40 630.32,48.07 638.48,47.74 646.75,47.41 655.14,47.08 663.64,46.75 672.26,46.42 681.00,46.09" fill="none" stroke="#ff0000" stroke-width="2.35" stroke-linejoin="round" clip-path="url(#ct)"/>
<circle cx="182.00" cy="99.20" r="4.1" fill="#fa00fa"/>
<circle cx="195.00" cy="100.60" r="4.1" fill="#fa00fa"/>
<circle cx="273.50" cy="100.70" r="4.1" fill="#fa00fa"/>
<circle cx="274.80" cy="99.70" r="4.1" fill="#fa00fa"/>
<circle cx="294.00" cy="99.60" r="4.1" fill="#fa00fa"/>
<circle cx="409.30" cy="99.75" r="4.1" fill="#fa00fa"/>
<polyline points="42.14,99.90 681.00,99.90" fill="none" stroke="#fa00fa" stroke-width="2.35" stroke-linejoin="round" clip-path="url(#ct)"/>
<circle cx="164.60" cy="82.80" r="4.1" fill="#0000ff"/>
<circle cx="215.70" cy="79.20" r="4.1" fill="#0000ff"/>
<circle cx="389.90" cy="83.45" r="4.1" fill="#0000ff"/>
<polyline points="42.40,76.19 42.41,76.20 42.43,76.22 42.44,76.24 42.46,76.25 42.47,76.27 42.49,76.29 42.50,76.30 42.52,76.32 42.54,76.34 42.56,76.36 42.57,76.37 42.59,76.39 42.61,76.41 42.63,76.42 42.65,76.44 42.67,76.46 42.68,76.47 42.70,76.49 42.72,76.51 42.74,76.52 42.77,76.54 42.79,76.56 42.81,76.58 42.83,76.59 42.85,76.61 42.87,76.63 42.90,76.64 42.92,76.66 42.94,76.68 42.97,76.69 42.99,76.71 43.02,76.73 43.04,76.75 43.07,76.76 43.09,76.78 43.12,76.80 43.15,76.81 43.17,76.83 43.20,76.85 43.23,76.86 43.26,76.88 43.29,76.90 43.32,76.91 43.35,76.93 43.38,76.95 43.41,76.97 43.44,76.98 43.47,77.00 43.51,77.02 43.54,77.03 43.57,77.05 43.61,77.07 43.64,77.08 43.68,77.10 43.71,77.12 43.75,77.14 43.79,77.15 43.83,77.17 43.87,77.19 43.91,77.20 43.94,77.22 43.99,77.24 44.03,77.25 44.07,77.27 44.11,77.29 44.15,77.30 44.20,77.32 44.24,77.34 44.29,77.36 44.34,77.37 44.38,77.39 44.43,77.41 44.48,77.42 44.53,77.44 44.58,77.46 44.63,77.47 44.68,77.49 44.73,77.51 44.79,77.53 44.84,77.54 44.90,77.56 44.96,77.58 45.01,77.59 45.07,77.61 45.13,77.63 45.19,77.64 45.25,77.66 45.31,77.68 45.38,77.70 45.44,77.71 45.51,77.73 45.57,77.75 45.64,77.76 45.71,77.78 45.78,77.80 45.85,77.81 45.92,77.83 46.00,77.85 46.07,77.86 46.15,77.88 46.22,77.90 46.30,77.92 46.38,77.93 46.46,77.95 46.55,77.97 46.63,77.98 46.72,78.00 46.80,78.02 46.89,78.03 46.98,78.05 47.07,78.07 47.16,78.09 47.26,78.10 47.35,78.12 47.45,78.14 47.55,78.15 47.65,78.17 47.75,78.19 47.86,78.20 47.96,78.22 48.07,78.24 48.18,78.25 48.29,78.27 48.40,78.29 48.52,78.31 48.63,78.32 48.75,78.34 48.87,78.36 48.99,78.37 49.12,78.39 49.24,78.41 49.37,78.42 49.50,78.44 49.64,78.46 49.77,78.48 49.91,78.49 50.05,78.51 50.19,78.53 50.33,78.54 50.48,78.56 50.63,78.58 50.78,78.59 50.94,78.61 51.09,78.63 51.25,78.64 51.41,78.66 51.58,78.68 51.75,78.70 51.92,78.71 52.09,78.73 52.26,78.75 52.44,78.76 52.63,78.78 52.81,78.80 53.00,78.81 53.19,78.83 53.38,78.85 53.58,78.87 53.78,78.88 53.98,78.90 54.19,78.92 54.40,78.93 54.62,78.95 54.83,78.97 55.06,78.98 55.28,79.00 55.51,79.02 55.74,79.03 55.98,79.05 56.22,79.07 56.46,79.09 56.71,79.10 56.97,79.12 57.22,79.14 57.48,79.15 57.75,79.17 58.02,79.19 58.29,79.20 58.57,79.22 58.86,79.24 59.14,79.26 59.44,79.27 59.73,79.29 60.04,79.31 60.34,79.32 60.66,79.34 60.98,79.36 61.30,79.37 61.63,79.39 61.96,79.41 62.30,79.42 62.65,79.44 63.00,79.46 63.36,79.48 63.72,79.49 64.09,79.51 64.46,79.53 64.84,79.54 65.23,79.56 65.63,79.58 66.03,79.59 66.43,79.61 66.85,79.63 67.27,79.65 67.70,79.66 68.13,79.68 68.57,79.70 69.02,79.71 69.48,79.73 69.95,79.75 70.42,79.76 70.90,79.78 71.39,79.80 71.88,79.81 72.39,79.83 72.90,79.85 73.42,79.87 73.95,79.88 74.49,79.90 75.04,79.92 75.59,79.93 76.16,79.95 76.74,79.97 77.32,79.98 77.92,80.00 78.52,80.02 79.14,80.04 79.76,80.05 80.40,80.07 81.04,80.09 81.70,80.10 82.37,80.12 83.04,80.14 83.73,80.15 84.44,80.17 85.15,80.19 85.87,80.20 86.61,80.22 87.36,80.24 88.12,80.26 88.90,80.27 89.68,80.29 90.48,80.31 91.30,80.32 92.12,80.34 92.96,80.36 93.82,80.37 94.69,80.39 95.57,80.41 96.47,80.43 97.38,80.44 98.31,80.46 99.25,80.48 100.21,80.49 101.19,80.51 102.18,80.53 103.18,80.54 104.21,80.56 105.25,80.58 106.31,80.59 107.39,80.61 108.48,80.63 109.59,80.65 110.72,80.66 111.87,80.68 113.04,80.70 114.23,80.71 115.44,80.73 116.66,80.75 117.91,80.76 119.18,80.78 120.47,80.80 121.78,80.82 123.12,80.83 124.47,80.85 125.85,80.87 127.25,80.88 128.67,80.90 130.12,80.92 131.59,80.93 133.09,80.95 134.61,80.97 136.15,80.98 137.73,81.00 139.32,81.02 140.95,81.04 142.60,81.05 144.28,81.07 145.99,81.09 147.72,81.10 149.49,81.12 151.28,81.14 153.10,81.15 154.95,81.17 156.84,81.19 158.75,81.21 160.70,81.22 162.68,81.24 164.69,81.26 166.74,81.27 168.82,81.29 170.93,81.31 173.08,81.32 175.27,81.34 177.49,81.36 179.75,81.37 182.04,81.39 184.38,81.41 186.75,81.43 189.16,81.44 191.61,81.46 194.10,81.48 196.64,81.49 199.21,81.51 201.83,81.53 204.50,81.54 207.20,81.56 209.95,81.58 212.75,81.60 215.60,81.61 218.49,81.63 221.43,81.65 224.41,81.66 227.45,81.68 230.54,81.70 233.68,81.71 236.87,81.73 240.11,81.75 243.41,81.76 246.76,81.78 250.17,81.80 253.64,81.82 257.16,81.83 260.74,81.85 264.38,81.87 268.08,81.88 271.85,81.90 275.67,81.92 279.56,81.93 283.51,81.95 287.53,81.97 291.62,81.99 295.77,82.00 299.99,82.02 304.29,82.04 308.65,82.05 313.09,82.07 317.60,82.09 322.18,82.10 326.84,82.12 331.58,82.14 336.40,82.15 341.29,82.17 346.27,82.19 351.33,82.21 356.48,82.22 361.71,82.24 367.03,82.26 372.43,82.27 377.93,82.29 383.51,82.31 389.19,82.32 394.97,82.34 400.84,82.36 406.80,82.38 412.87,82.39 419.04,82.41 425.31,82.43 431.68,82.44 438.16,82.46 444.74,82.48 451.44,82.49 458.25,82.51 465.17,82.53 472.20,82.54 479.36,82.56 486.63,82.58 494.02,82.60 501.53,82.61 509.17,82.63 516.94,82.65 524.83,82.66 532.86,82.68 541.02,82.70 549.31,82.71 557.75,82.73 566.32,82.75 575.03,82.77 583.89,82.78 592.90,82.80 602.06,82.82 611.37,82.83 620.83,82.85 630.45,82.87 640.23,82.88 650.17,82.90 660.28,82.92 670.55,82.94 681.00,82.95" fill="none" stroke="#0000ff" stroke-width="2.35" stroke-linejoin="round" clip-path="url(#ct)"/>
<circle cx="105.70" cy="368.15" r="4.1" fill="#00ff00"/>
<circle cx="156.80" cy="348.00" r="4.1" fill="#00ff00"/>
<circle cx="200.15" cy="393.60" r="4.1" fill="#00ff00"/>
<circle cx="220.80" cy="310.00" r="4.1" fill="#00ff00"/>
<circle cx="291.70" cy="330.70" r="4.1" fill="#00ff00"/>
<circle cx="284.30" cy="342.90" r="4.1" fill="#00ff00"/>
<circle cx="280.90" cy="368.00" r="4.1" fill="#00ff00"/>
<circle cx="571.10" cy="286.30" r="4.1" fill="#00ff00"/>
<polyline points="41.50,381.50 681.00,272.30" fill="none" stroke="#00ff00" stroke-width="2.35" stroke-linejoin="round" clip-path="url(#cb)"/>
<circle cx="134.75" cy="337.00" r="4.1" fill="#00ffff"/>
<circle cx="193.15" cy="379.80" r="4.1" fill="#00ffff"/>
<circle cx="216.90" cy="310.50" r="4.1" fill="#00ffff"/>
<circle cx="315.60" cy="325.60" r="4.1" fill="#00ffff"/>
<circle cx="326.40" cy="358.40" r="4.1" fill="#00ffff"/>
<circle cx="389.00" cy="313.70" r="4.1" fill="#00ffff"/>
<circle cx="443.50" cy="315.40" r="4.1" fill="#00ffff"/>
<circle cx="664.70" cy="329.10" r="4.1" fill="#00ffff"/>
<polyline points="41.50,347.30 681.00,317.90" fill="none" stroke="#00ffff" stroke-width="2.35" stroke-linejoin="round" clip-path="url(#cb)"/>
<circle cx="161.90" cy="325.60" r="4.1" fill="#ff0000"/>
<circle cx="220.40" cy="323.90" r="4.1" fill="#ff0000"/>
<circle cx="296.80" cy="313.40" r="4.1" fill="#ff0000"/>
<circle cx="416.10" cy="324.20" r="4.1" fill="#ff0000"/>
<circle cx="589.50" cy="227.70" r="4.1" fill="#ff0000"/>
<polyline points="41.50,364.90 681.00,231.30" fill="none" stroke="#ff0000" stroke-width="2.35" stroke-linejoin="round" clip-path="url(#cb)"/>
<circle cx="239.00" cy="307.40" r="4.1" fill="#fa00fa"/>
<circle cx="253.40" cy="309.70" r="4.1" fill="#fa00fa"/>
<circle cx="342.90" cy="309.90" r="4.1" fill="#fa00fa"/>
<circle cx="344.60" cy="308.20" r="4.1" fill="#fa00fa"/>
<circle cx="366.70" cy="307.80" r="4.1" fill="#fa00fa"/>
<polyline points="41.50,308.30 681.00,308.30" fill="none" stroke="#fa00fa" stroke-width="2.35" stroke-linejoin="round" clip-path="url(#cb)"/>
<circle cx="240.90" cy="308.20" r="4.1" fill="#0000ff"/>
<circle cx="299.00" cy="302.60" r="4.1" fill="#0000ff"/>
<circle cx="572.30" cy="126.45" r="3.7" fill="#00ff00"/>
<text x="582.6" y="129.45" font-size="8.4" font-style="italic" text-anchor="start" textLength="85.17" lengthAdjust="spacingAndGlyphs">Argopecten irradians</text>
<circle cx="572.30" cy="137.05" r="3.7" fill="#00ffff"/>
<text x="582.6" y="140.05" font-size="8.4" font-style="italic" text-anchor="start" textLength="84.59" lengthAdjust="spacingAndGlyphs">Crassostrea virginica</text>
<circle cx="572.30" cy="147.65" r="3.7" fill="#ff0000"/>
<text x="582.6" y="150.65" font-size="8.4" font-style="italic" text-anchor="start" textLength="93.44" lengthAdjust="spacingAndGlyphs">Mercenaria mercenaria</text>
<circle cx="572.30" cy="158.25" r="3.7" fill="#fa00fa"/>
<text x="582.6" y="161.25" font-size="8.4" font-style="italic" text-anchor="start" textLength="56.37" lengthAdjust="spacingAndGlyphs">Mytilus edulis</text>
<circle cx="572.30" cy="168.85" r="3.7" fill="#0000ff"/>
<text x="582.6" y="171.85" font-size="8.4" font-style="italic" text-anchor="start" textLength="76.71" lengthAdjust="spacingAndGlyphs">Spisula solidissima</text>
<circle cx="570.40" cy="344.10" r="3.7" fill="#00ff00"/>
<text x="580.8" y="347.10" font-size="8.4" font-style="italic" text-anchor="start" textLength="85.17" lengthAdjust="spacingAndGlyphs">Argopecten irradians</text>
<circle cx="570.40" cy="354.82" r="3.7" fill="#00ffff"/>
<text x="580.8" y="357.82" font-size="8.4" font-style="italic" text-anchor="start" textLength="84.59" lengthAdjust="spacingAndGlyphs">Crassostrea virginica</text>
<circle cx="570.40" cy="365.54" r="3.7" fill="#ff0000"/>
<text x="580.8" y="368.54" font-size="8.4" font-style="italic" text-anchor="start" textLength="93.44" lengthAdjust="spacingAndGlyphs">Mercenaria mercenaria</text>
<circle cx="570.40" cy="376.26" r="3.7" fill="#fa00fa"/>
<text x="580.8" y="379.26" font-size="8.4" font-style="italic" text-anchor="start" textLength="56.37" lengthAdjust="spacingAndGlyphs">Mytilus edulis</text>
<circle cx="570.40" cy="386.98" r="3.7" fill="#0000ff"/>
<text x="580.8" y="389.98" font-size="8.4" font-style="italic" text-anchor="start" textLength="76.71" lengthAdjust="spacingAndGlyphs">Spisula solidissima</text>
</g></g>
</svg></body></html>
